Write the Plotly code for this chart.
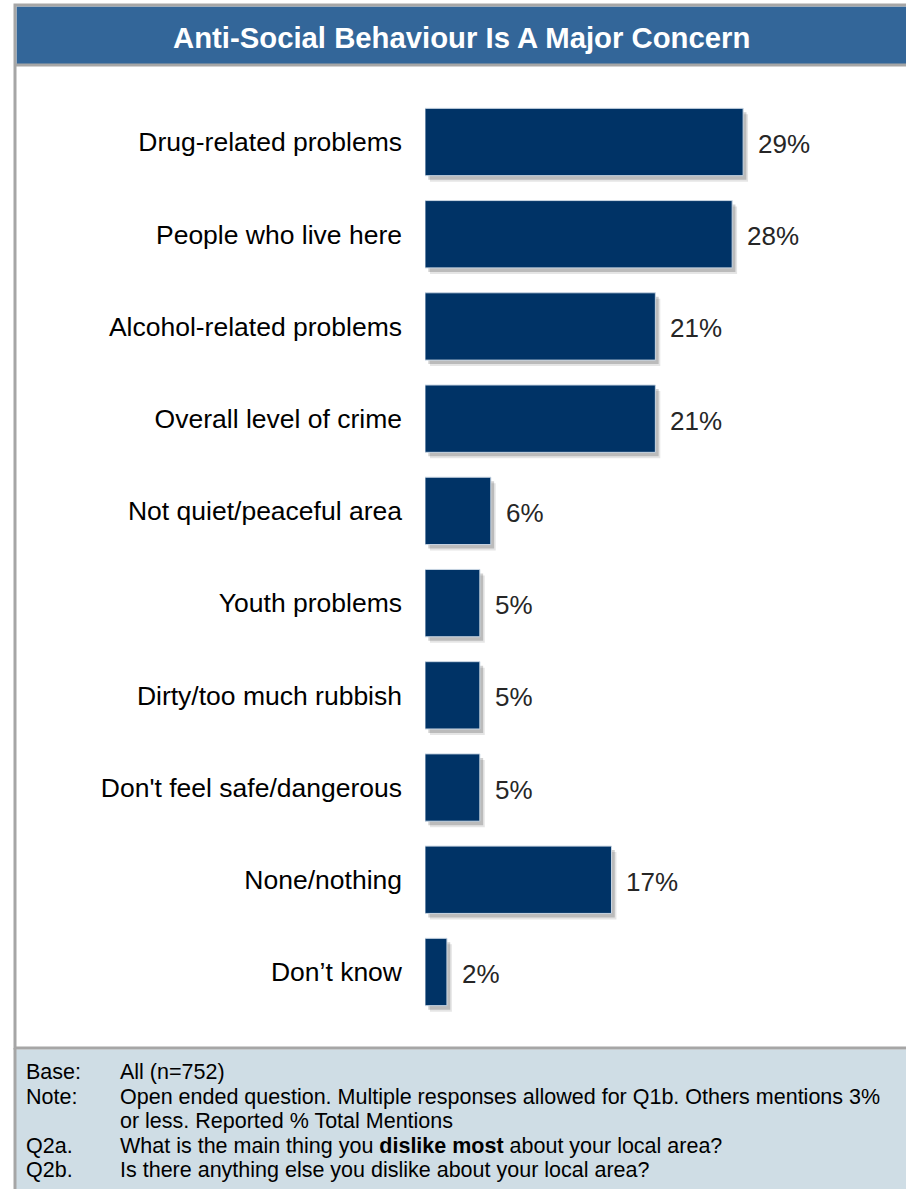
import plotly.graph_objects as go

categories = ["Drug-related problems", "People who live here", "Alcohol-related problems",
              "Overall level of crime", "Not quiet/peaceful area", "Youth problems",
              "Dirty/too much rubbish", "Don't feel safe/dangerous", "None/nothing", "Don\u2019t know"]
values = [29, 28, 21, 21, 6, 5, 5, 5, 17, 2]
value_labels = [f"{v}%" for v in values]

title_text = "Anti-Social Behaviour Is A Major Concern"
footer_keys = ["Base:", "Note:", "", "Q2a.", "Q2b."]
footer_vals = ["All (n=752)",
               "Open ended question. Multiple responses allowed for Q1b. Others mentions 3%",
               "or less. Reported % Total Mentions",
               "What is the main thing you <b>dislike most</b> about your local area?",
               "Is there anything else you dislike about your local area?"]

W, H = 906, 1189
BAR = "#003366"
BAR_W = 0.73
px_per_cat = 92.2
shadow_dy = 5 / px_per_cat
FONT = "Liberation Sans, Arial, sans-serif"

fig = go.Figure()
# soft drop shadows
fig.add_trace(go.Bar(y=categories, x=values, base=0.45, orientation="h", width=BAR_W,
                     offset=-BAR_W / 2 + shadow_dy * 1.2,
                     marker=dict(color="rgba(0,0,0,0.10)", line=dict(width=0)),
                     hoverinfo="skip", showlegend=False))
fig.add_trace(go.Bar(y=categories, x=values, base=0.3, orientation="h", width=BAR_W,
                     offset=-BAR_W / 2 + shadow_dy * 0.8,
                     marker=dict(color="rgba(0,0,0,0.18)", line=dict(width=0)),
                     hoverinfo="skip", showlegend=False))
fig.add_trace(go.Bar(y=categories, x=values, orientation="h", width=BAR_W,
                     offset=-BAR_W / 2,
                     marker=dict(color=BAR, line=dict(color="#c9d6e3", width=1)),
                     showlegend=False))

fig.update_layout(barmode="overlay")

for c, v, t in zip(categories, values, value_labels):
    fig.add_annotation(x=v, y=c, xref="x", yref="y", text=t, showarrow=False,
                       xanchor="left", xshift=13, yshift=-2,
                       font=dict(family=FONT, size=26, color="#262626"))

x0_px = 425
unit_px = 10.97
xmax = (W - x0_px) / unit_px
top_px = 142 - px_per_cat / 2
bot_px = 972 + px_per_cat / 2

fig.update_xaxes(domain=[x0_px / W, 1], range=[0, xmax], visible=False, fixedrange=True)
fig.update_yaxes(domain=[(H - bot_px) / H, (H - top_px) / H], range=[9.5, -0.5],
                 showgrid=False, zeroline=False, showline=False, ticks="",
                 ticklabelstandoff=22,
                 tickfont=dict(family=FONT, size=26.5, color="#000000"))

# frame / background shapes
shapes = [
    dict(type="rect", xref="paper", yref="paper", x0=15 / W, x1=1.01, y0=(H - 1048) / H, y1=(H - 5) / H,
         line=dict(color="#a6a6a6", width=3), fillcolor="rgba(0,0,0,0)", layer="above"),
    dict(type="rect", xref="paper", yref="paper", x0=16.5 / W, x1=1.01, y0=(H - 64) / H, y1=(H - 6.5) / H,
         line=dict(width=0), fillcolor="#336699", layer="below"),
    dict(type="line", xref="paper", yref="paper", x0=15 / W, x1=1.01, y0=(H - 65) / H, y1=(H - 65) / H,
         line=dict(color="#a6a6a6", width=3), layer="above"),
    dict(type="rect", xref="paper", yref="paper", x0=15 / W, x1=1.01, y0=-0.01, y1=(H - 1049.5) / H,
         line=dict(width=0), fillcolor="#cfdde5", layer="below"),
    dict(type="line", xref="paper", yref="paper", x0=15 / W, x1=15 / W, y0=-0.01, y1=(H - 1048) / H,
         line=dict(color="#a6a6a6", width=3), layer="above"),
]
fig.update_layout(shapes=shapes)

fig.add_annotation(x=461 / W, y=(H - 37) / H, xref="paper", yref="paper", text=f"<b>{title_text}</b>",
                   showarrow=False, xanchor="center", yanchor="middle",
                   font=dict(family=FONT, size=29.3, color="white"))

footer_y = [1072, 1097, 1121, 1146, 1170]
for k, v, yy in zip(footer_keys, footer_vals, footer_y):
    if k:
        fig.add_annotation(x=24 / W, y=(H - yy) / H, xref="paper", yref="paper", text=k, showarrow=False,
                           xanchor="left", yanchor="middle",
                           font=dict(family=FONT, size=21.5, color="#000000"))
    fig.add_annotation(x=118 / W, y=(H - yy) / H, xref="paper", yref="paper", text=v, showarrow=False,
                       xanchor="left", yanchor="middle",
                       font=dict(family=FONT, size=21.5, color="#000000"))

fig.update_layout(width=W, height=H, margin=dict(l=0, r=0, t=0, b=0),
                  paper_bgcolor="white", plot_bgcolor="rgba(0,0,0,0)")

fig.write_html("out.html", config={"displayModeBar": False})
